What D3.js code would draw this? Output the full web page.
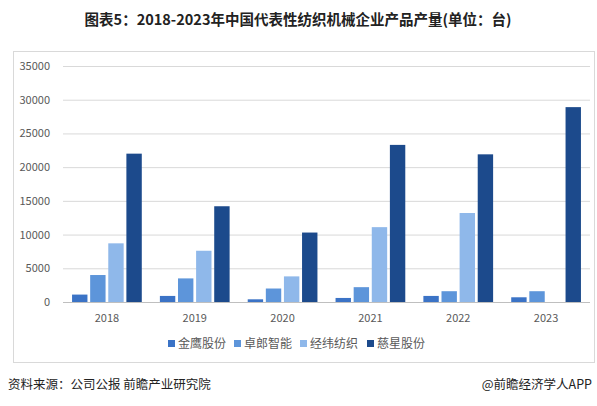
<!DOCTYPE html><html><head><meta charset="utf-8"><script src="https://cdn.jsdelivr.net/npm/d3@7"></script>
<style>body{margin:0;background:#fff}text{font-family:"Noto Sans CJK SC","Noto Sans",sans-serif}</style></head><body><svg id="c" width="597" height="406"></svg>
<script>
const years=["2018","2019","2020","2021","2022","2023"];
const seriesNames=["金鹰股份","卓郎智能","经纬纺织","慈星股份"];
const jinying=[1100,900,400,600,900,700];
const zhuolang=[4000,3500,2000,2200,1600,1600];
const jingwei=[8700,7600,3800,11100,13200,null];
const cixing=[22000,14200,10300,23300,21900,28900];
const yTicks=[0,5000,10000,15000,20000,25000,30000,35000];
const colors=["#3b73c6","#5d95da","#8fb8ea","#1c4a8c"];
const data=[jinying,zhuolang,jingwei,cixing];
const svg=d3.select("#c");
svg.append("text").attr("x",298).attr("y",25).attr("text-anchor","middle").attr("font-size",14.5).attr("font-weight","bold").attr("fill","#222").text("图表5：2018-2023年中国代表性纺织机械企业产品产量(单位：台)");
svg.append("rect").attr("x",13.5).attr("y",51.5).attr("width",581).attr("height",311).attr("fill","none").attr("stroke","#d9d9d9");
const x=d3.scaleBand().domain(years).range([63,590]);
const y=d3.scaleLinear().domain([0,35000]).range([302,66]);
const g=svg.append("g");
yTicks.forEach(t=>{g.append("line").attr("x1",63).attr("x2",590).attr("y1",y(t)+.5).attr("y2",y(t)+.5).attr("stroke",t===0?"#bfbfbf":"#d9d9d9");
g.append("text").attr("x",50).attr("y",y(t)+4).attr("text-anchor","end").attr("font-size",11).attr("fill","#595959").text(t);});
const x1=d3.scaleBand().domain(d3.range(4)).range([0,x.bandwidth()]).paddingInner(0.15).paddingOuter(0.5);
years.forEach((yr,i)=>{data.forEach((s,j)=>{if(s[i]==null)return;
g.append("rect").attr("x",x(yr)+x1(j)).attr("width",x1.bandwidth()).attr("y",y(s[i])).attr("height",y(0)-y(s[i])).attr("fill",colors[j]);});
g.append("text").attr("x",x(yr)+x.bandwidth()/2).attr("y",322).attr("text-anchor","middle").attr("font-size",11).attr("fill","#595959").text(yr);});
const lx=[168,234,300,367];
seriesNames.forEach((n,j)=>{svg.append("rect").attr("x",lx[j]).attr("y",340).attr("width",7).attr("height",7).attr("fill",colors[j]);
svg.append("text").attr("x",lx[j]+10).attr("y",348).attr("font-size",12).attr("fill","#595959").text(n);});
svg.append("text").attr("x",8).attr("y",389).attr("font-size",12.5).attr("fill","#222").text("资料来源：公司公报 前瞻产业研究院");
svg.append("text").attr("x",592).attr("y",389).attr("text-anchor","end").attr("font-size",12.5).attr("fill","#222").text("@前瞻经济学人APP");
</script></body></html>
